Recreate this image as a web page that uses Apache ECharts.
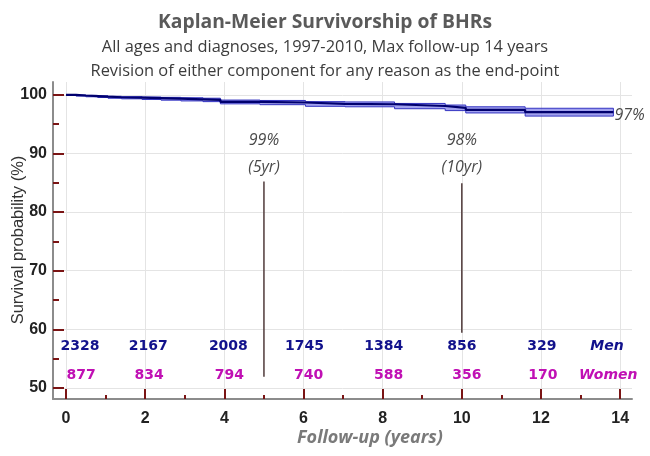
<!DOCTYPE html>
<html>
<head>
<meta charset="utf-8">
<script src="https://cdn.jsdelivr.net/npm/echarts@6/dist/echarts.min.js"></script>
<style>
html,body{margin:0;padding:0;background:#fff;}
#chart{width:650px;height:456px;}
</style>
</head>
<body>
<div id="chart"></div>
<script>
// ---- data ----
var times    = [0, 0.25, 0.5, 0.8, 1.06, 1.4, 1.92, 2.4, 2.9, 3.46, 3.9, 4.9, 6.05, 7.05, 8.3, 9.58, 10.1, 11.6, 13.83];
var survival = [100, 99.9, 99.8, 99.7, 99.6, 99.52, 99.44, 99.35, 99.25, 99.15, 98.8, 98.7, 98.46, 98.4, 98.1, 97.8, 97.45, 97.05, 97.05];
var ciLower  = [100, 99.8, 99.68, 99.55, 99.43, 99.33, 99.22, 99.1, 98.97, 98.85, 98.47, 98.33, 98.05, 97.97, 97.64, 97.32, 96.92, 96.38, 96.38];
var ciUpper  = [100, 99.98, 99.92, 99.84, 99.76, 99.7, 99.64, 99.58, 99.51, 99.43, 99.12, 99.05, 98.85, 98.8, 98.54, 98.27, 97.97, 97.72, 97.72];
var riskYears = [0, 2, 4, 6, 8, 10, 12];
var riskMen   = [2328, 2167, 2008, 1745, 1384, 856, 329];
var riskWomen = [877, 834, 794, 740, 588, 356, 170];
var xMajorTicks = [0, 2, 4, 6, 8, 10, 12, 14];
var xMinorTicks = [1, 3, 5, 7, 9, 11, 13];
var yMajorTicks = [50, 60, 70, 80, 90, 100];
var yMinorTicks = [55, 65, 75, 85, 95];
var milestoneYears  = [5, 10];
var milestoneValues = [99, 98];
var milestoneTags   = ['(5yr)', '(10yr)'];
var finalValue = 97;

// ---- build ----
function pairs(xs, ys){ return xs.map(function(x,i){ return [x, ys[i]]; }); }

var tickColor = '#7a1414';
var axisColor = '#8c8c8c';
var sans = '"Open Sans", "Noto Sans", sans-serif';
var boldNum = '"DejaVu Sans", Verdana, sans-serif';
var menColor = '#12128c';
var womenColor = '#c010b4';

var menOffsets   = [14, 3, 4, 1, 1, 0, 1];
var womenOffsets = [15, 4, 5, 5, 6, 5, 2];
// vertical extent of milestone marker lines (survival %)
var markerSpans = [[85.2, 51.9], [84.9, 59.4]];

function bandRender(params, api){
  if (params.dataIndex !== 0) return;
  var pts = [];
  var n = times.length, i;
  for (i = 0; i < n; i++) {
    pts.push(api.coord([times[i], ciUpper[i]]));
    if (i < n - 1) pts.push(api.coord([times[i+1], ciUpper[i]]));
  }
  for (i = n - 1; i >= 0; i--) {
    if (i < n - 1) pts.push(api.coord([times[i+1], ciLower[i]]));
    pts.push(api.coord([times[i], ciLower[i]]));
  }
  return {
    type: 'polygon',
    shape: {points: pts},
    style: {fill: 'rgba(125,125,232,0.72)', stroke: '#3434c2', lineWidth: 1}
  };
}

var series = [
  {
    name: 'ci', type: 'custom', renderItem: bandRender, data: [[0, 100]],
    silent: true, z: 3, clip: true
  },
  {
    name: 'survival', type: 'line', xAxisIndex: 0, yAxisIndex: 0,
    data: pairs(times, survival), step: 'end', symbol: 'none',
    lineStyle: {color: '#00006e', width: 2.2}, silent: true, z: 4
  }
];

function textPoint(x, y, text, style, position, offset){
  var lbl = Object.assign({show: true, position: position || 'inside', formatter: text}, style);
  if (offset) lbl.offset = offset;
  return {
    type: 'scatter', symbolSize: 0, silent: true, z: 5,
    itemStyle: {opacity: 1},
    data: [[x, y]],
    label: lbl
  };
}

var noteStyle = {fontFamily: sans, fontStyle: 'italic', fontSize: 16, color: '#4a4a4a'};

milestoneYears.forEach(function(yr, k){
  series.push({
    type: 'line', data: [[yr, markerSpans[k][0]], [yr, markerSpans[k][1]]],
    symbol: 'none', lineStyle: {color: '#5a4646', width: 1.6}, silent: true, z: 2
  });
  series.push(textPoint(yr, 92.25, milestoneValues[k] + '%', noteStyle));
  series.push(textPoint(yr, 87.7, milestoneTags[k], noteStyle));
});
series.push(textPoint(times[times.length-1], survival[survival.length-1] - 0.6, finalValue + '%',
  Object.assign({distance: 1}, noteStyle), 'right'));

var menStyle = {fontFamily: boldNum, fontWeight: 'bold', fontSize: 14, color: menColor};
var womenStyle = {fontFamily: boldNum, fontWeight: 'bold', fontSize: 14, color: womenColor};
riskYears.forEach(function(yr, i){
  series.push(textPoint(yr, 57.1, String(riskMen[i]), menStyle, 'inside', [menOffsets[i], 0]));
  series.push(textPoint(yr, 52.1, String(riskWomen[i]), womenStyle, 'inside', [womenOffsets[i], 0]));
});
series.push(textPoint(13.67, 57.1, 'Men', Object.assign({fontStyle: 'italic'}, menStyle)));
series.push(textPoint(13.7, 52.1, 'Women', Object.assign({fontStyle: 'italic'}, womenStyle)));

var option = {
  animation: false,
  backgroundColor: '#ffffff',
  title: {
    text: 'Kaplan-Meier Survivorship of BHRs',
    subtext: 'All ages and diagnoses, 1997-2010, Max follow-up 14 years\nRevision of either component for any reason as the end-point',
    left: 'center', top: 8, itemGap: 3,
    textStyle: {fontFamily: sans, fontWeight: 'bold', fontSize: 19.3, color: '#5a5a5a'},
    subtextStyle: {fontFamily: sans, fontSize: 16.4, color: '#3c3c3c', lineHeight: 24}
  },
  grid: {left: 53, right: 18, top: 82, bottom: 57, containLabel: false},
  xAxis: [
    {
      type: 'value', min: -0.33, max: 14.3, position: 'bottom',
      axisLine: {show: true, onZero: false, lineStyle: {color: axisColor, width: 2}},
      axisTick: {show: true, inside: true, length: 10, customValues: xMajorTicks, lineStyle: {color: tickColor, width: 2}},
      axisLabel: {show: true, customValues: xMajorTicks, margin: 12, fontFamily: 'Liberation Sans, Arial, sans-serif', fontWeight: 'bold', fontSize: 16, color: '#222'},
      splitLine: {show: true, lineStyle: {color: '#e4e4e4', width: 1}}
    },
    {
      type: 'value', min: -0.33, max: 14.3, position: 'bottom', offset: 0,
      axisLine: {show: false, onZero: false},
      axisTick: {show: true, inside: true, length: 4, customValues: xMinorTicks, lineStyle: {color: tickColor, width: 2}},
      axisLabel: {show: false},
      splitLine: {show: false}
    }
  ],
  yAxis: [
    {
      type: 'value', min: 48.1, max: 102.2, position: 'left',
      axisLine: {show: true, onZero: false, lineStyle: {color: axisColor, width: 2}},
      axisTick: {show: true, inside: true, length: 11, customValues: yMajorTicks, lineStyle: {color: tickColor, width: 2}},
      axisLabel: {show: true, customValues: yMajorTicks, margin: 6, fontFamily: 'Liberation Sans, Arial, sans-serif', fontWeight: 'bold', fontSize: 16, color: '#222'},
      splitLine: {show: true, lineStyle: {color: '#e4e4e4', width: 1}}
    },
    {
      type: 'value', min: 48.1, max: 102.2, position: 'left', offset: 0,
      axisLine: {show: false, onZero: false},
      axisTick: {show: true, inside: true, length: 6, customValues: yMinorTicks, lineStyle: {color: tickColor, width: 2}},
      axisLabel: {show: false},
      splitLine: {show: false}
    }
  ],
  graphic: [
    {
      type: 'text', x: 18, y: 240, rotation: Math.PI / 2,
      style: {text: 'Survival probability (%)', textAlign: 'center', textVerticalAlign: 'middle',
        fontFamily: 'Liberation Sans, Arial, sans-serif', fontSize: 16.5, fill: '#333'}
    },
    {
      type: 'text', x: 370, y: 438,
      style: {text: 'Follow-up (years)', textAlign: 'center', textVerticalAlign: 'middle',
        fontFamily: sans, fontWeight: 'bold', fontStyle: 'italic', fontSize: 18, fill: '#7a7a7a'}
    }
  ],
  series: series
};

var chart = echarts.init(document.getElementById('chart'), null, {renderer: 'canvas'});
chart.setOption(option);
</script>
</body>
</html>
